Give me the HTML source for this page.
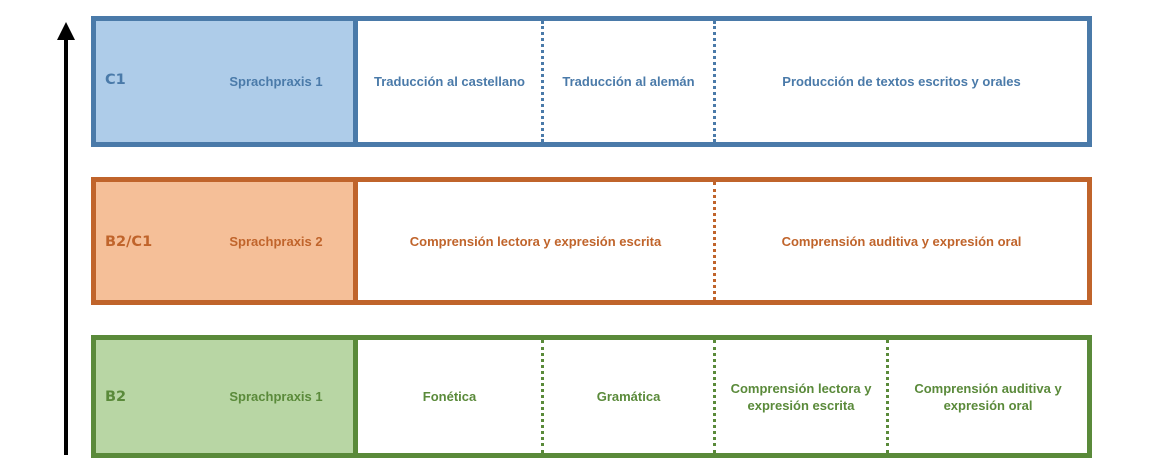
<!DOCTYPE html>
<html><head><meta charset="utf-8"><style>
body{margin:0;width:1170px;height:470px;background:#fff;position:relative;overflow:hidden;font-family:"Liberation Sans",sans-serif;font-weight:bold}
.box{position:absolute;left:91px;width:1001px;box-sizing:border-box;border:5px solid}
.lc{position:absolute;left:0;top:0;bottom:0;width:262px;box-sizing:border-box}
.vl{position:absolute;top:0;bottom:0;width:0}
.t{position:absolute;font-size:13px;text-align:center;display:flex;align-items:center;justify-content:center;line-height:17px}
.lvl{position:absolute;font-size:14.5px;font-family:"DejaVu Sans","Liberation Sans",sans-serif;font-weight:900}
</style></head><body>
<div style="position:absolute;left:64px;top:36px;width:4px;height:419px;background:#000"></div>
<div style="position:absolute;left:57px;top:22px;width:0;height:0;border-left:9px solid transparent;border-right:9px solid transparent;border-bottom:18px solid #000"></div>

<div class="box" style="top:16px;height:131px;border-color:#4a7aa9;color:#4a7aa9">
 <div class="lc" style="background:#aecce9;border-right:5px solid #4a7aa9"></div>
 <div class="vl" style="left:445px;border-left:3px dotted #4a7aa9"></div>
 <div class="vl" style="left:617px;border-left:3px dotted #4a7aa9"></div>
 <div class="lvl" style="left:9px;top:51px">C1</div>
 <div class="t" style="left:120px;width:120px;top:0;bottom:0">Sprachpraxis 1</div>
 <div class="t" style="left:262px;width:183px;top:0;bottom:0">Traducción al castellano</div>
 <div class="t" style="left:448px;width:169px;top:0;bottom:0">Traducción al alemán</div>
 <div class="t" style="left:620px;width:371px;top:0;bottom:0">Producción de textos escritos y orales</div>
</div>

<div class="box" style="top:177px;height:128px;border-color:#c0642b;color:#c0642b">
 <div class="lc" style="background:#f5bf98;border-right:5px solid #c0642b"></div>
 <div class="vl" style="left:617px;border-left:3px dotted #c0642b"></div>
 <div class="lvl" style="left:9px;top:52px">B2/C1</div>
 <div class="t" style="left:120px;width:120px;top:0;bottom:0">Sprachpraxis 2</div>
 <div class="t" style="left:262px;width:355px;top:0;bottom:0">Comprensión lectora y expresión escrita</div>
 <div class="t" style="left:620px;width:371px;top:0;bottom:0">Comprensión auditiva y expresión oral</div>
</div>

<div class="box" style="top:335px;height:123px;border-color:#5a8a3a;color:#5a8a3a">
 <div class="lc" style="background:#b8d6a4;border-right:5px solid #5a8a3a"></div>
 <div class="vl" style="left:445px;border-left:3px dotted #5a8a3a"></div>
 <div class="vl" style="left:617px;border-left:3px dotted #5a8a3a"></div>
 <div class="vl" style="left:790px;border-left:3px dotted #5a8a3a"></div>
 <div class="lvl" style="left:9px;top:49px">B2</div>
 <div class="t" style="left:120px;width:120px;top:0;bottom:0">Sprachpraxis 1</div>
 <div class="t" style="left:262px;width:183px;top:0;bottom:0">Fonética</div>
 <div class="t" style="left:448px;width:169px;top:0;bottom:0">Gramática</div>
 <div class="t" style="left:620px;width:170px;top:0;bottom:0">Comprensión lectora y<br>expresión escrita</div>
 <div class="t" style="left:793px;width:198px;top:0;bottom:0">Comprensión auditiva y<br>expresión oral</div>
</div>
</body></html>
